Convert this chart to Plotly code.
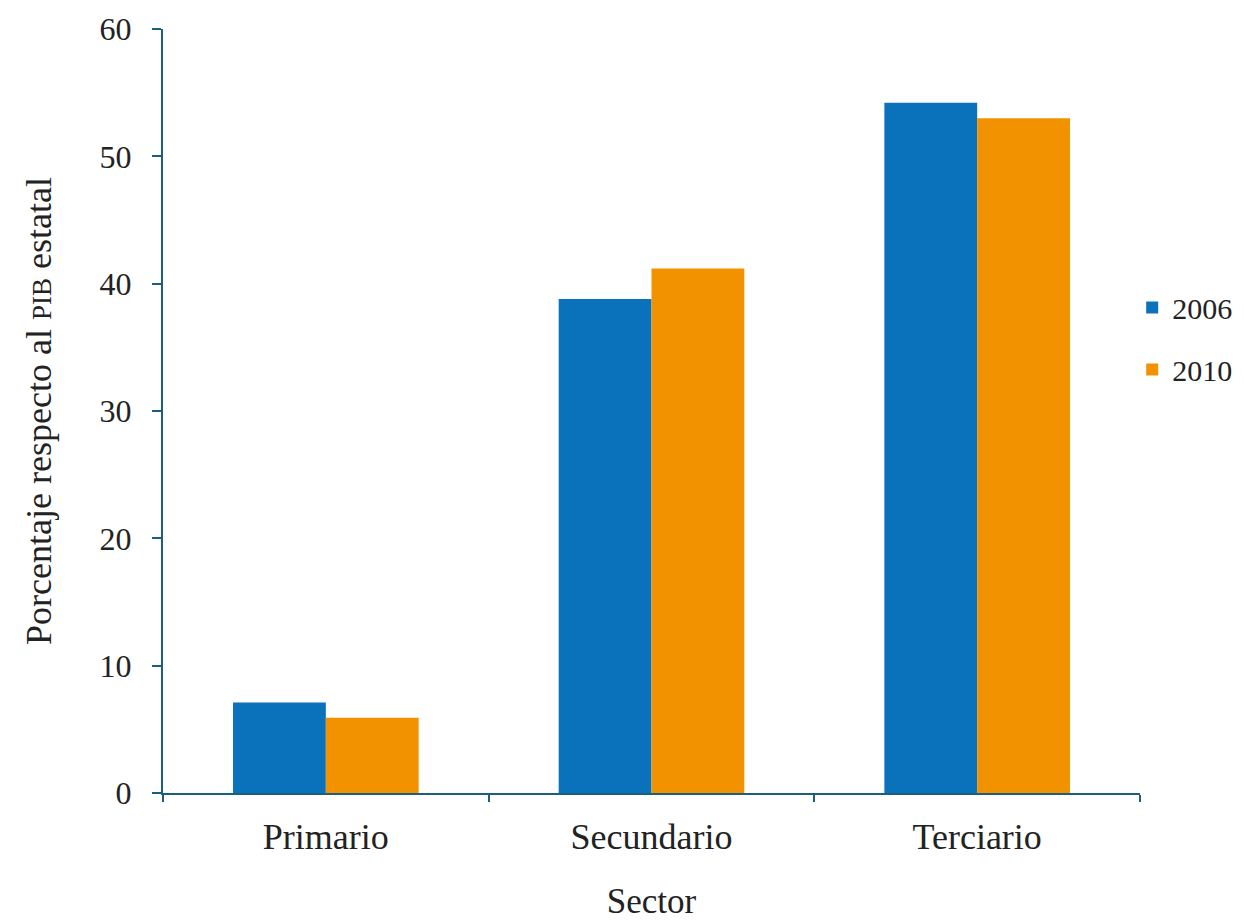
import plotly.graph_objects as go

sectors = ["Primario", "Secundario", "Terciario"]
years = ["2006", "2010"]
values_2006 = [7.1, 38.8, 54.2]
values_2010 = [5.9, 41.2, 53.0]
y_ticks = [0, 10, 20, 30, 40, 50, 60]

colors = {"2006": "#0a72ba", "2010": "#f39200"}
font_family = "Liberation Serif, Times New Roman, serif"
axis_color = "#1b5f7e"
text_color = "#222222"

fig = go.Figure()
for yr, vals in zip(years, [values_2006, values_2010]):
    fig.add_trace(go.Bar(
        x=sectors, y=vals, name=yr, legendgroup=yr,
        marker=dict(color=colors[yr], line=dict(width=0)),
    ))

fig.update_layout(
    width=1236, height=913,
    paper_bgcolor="white", plot_bgcolor="white",
    margin=dict(l=155, r=104, t=21, b=128, autoexpand=False),
    barmode="group", bargap=0.43, bargroupgap=0,
    font=dict(family=font_family, size=32, color=text_color),
    legend=dict(
        x=0.992, y=0.595, xanchor="left", yanchor="middle",
        font=dict(size=30, color=text_color),
        traceorder="grouped", tracegroupgap=20,
        itemwidth=30, bgcolor="rgba(0,0,0,0)",
    ),
    xaxis=dict(
        showline=True, linecolor=axis_color, linewidth=2,
        ticks="outside", tickcolor=axis_color, ticklen=7, tickwidth=2,
        tickson="boundaries",
        tickfont=dict(size=36),
        ticklabelstandoff=11,
        title=dict(text="Sector", standoff=40, font=dict(size=35)),
        showgrid=False, zeroline=False,
    ),
    yaxis=dict(
        range=[0, 60], tickvals=y_ticks,
        showline=True, linecolor=axis_color, linewidth=2,
        ticks="outside", tickcolor=axis_color, ticklen=9, tickwidth=2,
        tickfont=dict(size=32),
        ticklabelstandoff=14,
        title=dict(text="Porcentaje respecto al <span style='font-size:27px'>PIB</span> estatal",
                   standoff=37, font=dict(size=36)),
        showgrid=False, zeroline=False,
    ),
)

fig.write_html("out.html")
